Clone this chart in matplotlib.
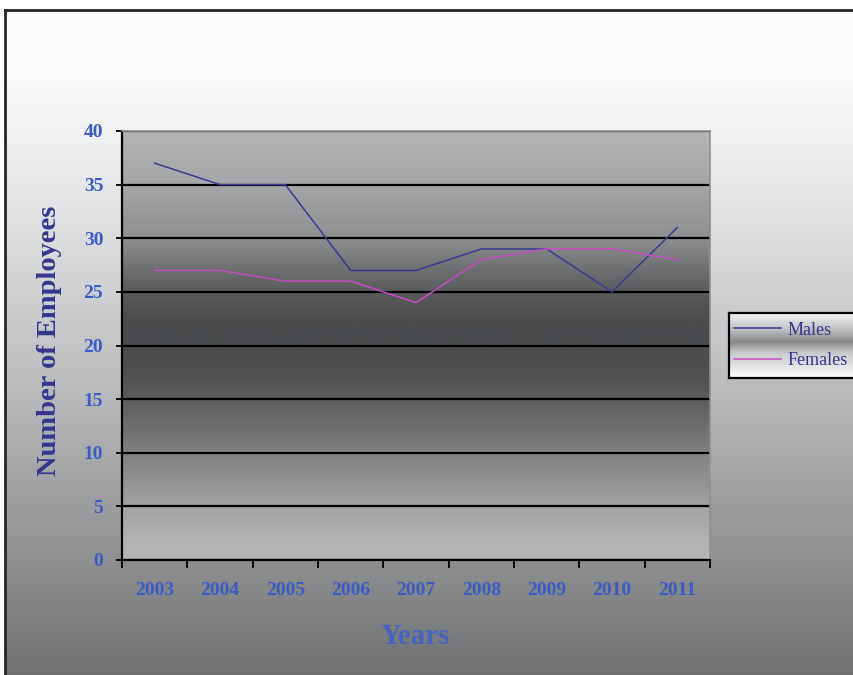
import numpy as np
import matplotlib
matplotlib.use('Agg')
import matplotlib.pyplot as plt

years = ['2003', '2004', '2005', '2006', '2007', '2008', '2009', '2010', '2011']
males = [37, 35, 35, 27, 27, 29, 29, 25, 31]
females = [27, 27, 26, 26, 24, 28, 29, 29, 28]
yticks = list(range(0, 45, 5))

W, H = 854, 675
SERIF = ['Liberation Serif', 'DejaVu Serif']
TICK_COL = '#3d5bc4'
NAVY = '#36368a'


def px(x0, y0, x1, y1):
    return [x0 / W, 1 - y1 / H, (x1 - x0) / W, (y1 - y0) / H]


def grad(keys, levels, lo, hi, n=400):
    t = np.linspace(lo, hi, n)
    g = np.interp(t, keys, levels)
    img = np.stack([g - 4, g - 2, g], axis=-1) / 255.0
    return np.clip(img[:, None, :], 0, 1)


fig = plt.figure(figsize=(W / 100, H / 100), dpi=100)
fig.patch.set_facecolor('white')

# outer chart area with white->grey gradient and a frame on top/left
bg = fig.add_axes(px(5, 10, 870, 690), zorder=0)
bg.imshow(grad([10, 70, 130, 250, 400, 560, 690], [255, 254, 244, 220, 186, 145, 112], 10, 690),
          aspect='auto', extent=[0, 1, 0, 1], interpolation='bilinear')
bg.set_xlim(0, 1); bg.set_ylim(0, 1)
bg.set_xticks([]); bg.set_yticks([])
for s in ['right', 'bottom']:
    bg.spines[s].set_visible(False)
for s in ['left', 'top']:
    bg.spines[s].set_linewidth(2); bg.spines[s].set_color('#262626')

# plot area
ax = fig.add_axes(px(122, 131, 710, 560), zorder=2)
vals = [0, 2, 5, 7, 10, 12, 15, 17, 20, 22, 25, 27, 30, 35, 40]
levs = [184, 180, 165, 150, 130, 115, 95, 84, 77, 77, 92, 112, 145, 168, 182]
ax.imshow(grad(vals, levs, 40, 0), aspect='auto', extent=[-0.5, 8.5, 0, 40],
          interpolation='bilinear', zorder=0)
x = np.arange(len(years))
ax.plot(x, males, color='#3b3a8f', lw=1.1, zorder=3, label='Males')
ax.plot(x, females, color='#c24fbf', lw=1.1, zorder=3, label='Females')
ax.set_xlim(-0.5, 8.5); ax.set_ylim(0, 40)
ax.set_yticks(yticks)
ax.yaxis.grid(True, color='black', lw=1.6)
ax.set_xticks(x)
ax.set_xticklabels(years)
ax.set_xticks(np.arange(-0.5, 9, 1), minor=True)
ax.tick_params(axis='x', which='major', length=0, pad=16)
ax.tick_params(axis='x', which='minor', length=6, width=1.3, direction='out')
ax.tick_params(axis='y', length=4.5, width=1.3, direction='out', pad=9)
for lab in ax.get_xticklabels() + ax.get_yticklabels():
    lab.set_fontfamily(SERIF); lab.set_fontweight('bold')
    lab.set_fontsize(14); lab.set_color(TICK_COL)
for s in ['left', 'bottom']:
    ax.spines[s].set_linewidth(1.6); ax.spines[s].set_color('black')
for s in ['top', 'right']:
    ax.spines[s].set_linewidth(1.2); ax.spines[s].set_color('#8f9093')

fig.text(50 / W, 1 - 341 / H, 'Number of Employees', rotation=90, ha='center', va='center',
         fontsize=20.5, fontweight='bold', family=SERIF, color=NAVY)
fig.text(415 / W, 1 - 637 / H, 'Years', ha='center', va='center',
         fontsize=21, fontweight='bold', family=SERIF, color='#4a63c2')

# legend box with its own gradient
lax = fig.add_axes(px(729, 313, 860, 378), zorder=1)
lax.imshow(grad([0, 0.3, 0.45, 0.6, 1.0], [250, 185, 135, 200, 255], 0, 1),
           aspect='auto', extent=[0, 1, 0, 1], interpolation='bilinear')
lax.set_xlim(0, 1); lax.set_ylim(0, 1)
lax.set_xticks([]); lax.set_yticks([])
for s in lax.spines.values():
    s.set_linewidth(1.6); s.set_color('black')
h, l = ax.get_legend_handles_labels()
lax.legend(h, l, loc='center left', bbox_to_anchor=(0, 0.5), frameon=False,
           borderaxespad=0, borderpad=0.3, handlelength=2.6, handletextpad=0.35,
           labelspacing=0.75, prop={'family': SERIF, 'size': 13}, labelcolor=NAVY)

fig.savefig('out.png', dpi=100)
